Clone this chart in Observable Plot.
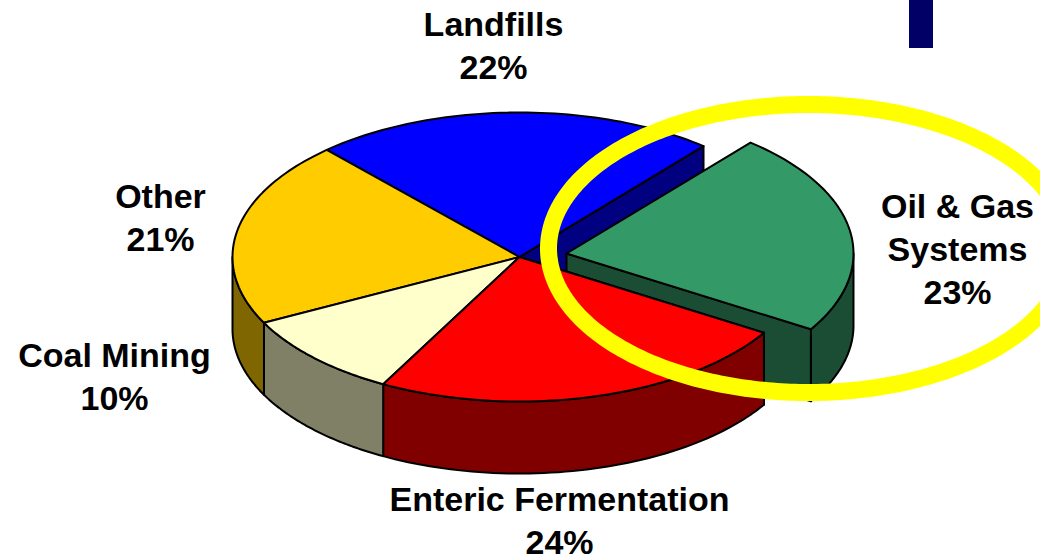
<!DOCTYPE html>
<html>
<head>
<meta charset="utf-8">
<script src="https://cdn.jsdelivr.net/npm/d3@7"></script>
<script src="https://cdn.jsdelivr.net/npm/@observablehq/plot@0.6"></script>
<style>
html,body{margin:0;padding:0;background:#fff;overflow:hidden}
svg{display:block}
</style>
</head>
<body>
<div id="chart"></div>
<script>
// Data
const names = ["Landfills", "Oil & Gas\nSystems", "Enteric Fermentation", "Coal Mining", "Other"];
const percentLabels = ["22%", "23%", "24%", "10%", "21%"];
const drawnShares = [22.8, 22.7, 24.1, 9.6, 20.8];   // slice widths as measured on the drawing
const topColors = ["#0000ff", "#339966", "#ff0000", "#ffffcc", "#ffcc00"];
const sideColors = ["#000080", "#1a4d33", "#800000", "#808066", "#806600"];

// Layout
const W = 1040, H = 557;
const pie = {cx: 519, cy: 256.5, rx: 287, ry: 144.5, depth: 72, start: -42.2};
const explode = [[0, 0], [47, -3.5], [0, 0], [0, 0], [0, 0]];
const ring = {cx: 808, cy: 248, rx: 260, ry: 144, width: 17, color: "#ffff00"};
const flag = {x1: 909, x2: 933, y1: 0, y2: 48, color: "#000066"};
const labelX = [493, 957, 559, 114, 160];
const labelFirstBaseline = [35, 217, 510, 366, 207];
const lineStep = 43;

let acc = pie.start;
const slices = drawnShares.map((s, i) => {
  const a0 = acc, a1 = acc + s * 3.6;
  acc = a1;
  return {i, a0, a1, dx: explode[i][0], dy: explode[i][1]};
});

const pt = (s, t, dz = 0) => {
  const r = t * Math.PI / 180;
  return {x: pie.cx + s.dx + pie.rx * Math.sin(r), y: pie.cy + s.dy - pie.ry * Math.cos(r) + dz};
};
const arc = (s, a, b, dz = 0) => d3.range(0, 61).map(k => pt(s, a + (b - a) * k / 60, dz));
const centre = (s, dz = 0) => ({x: pie.cx + s.dx, y: pie.cy + s.dy + dz});
const closed = pts => [...pts, pts[0]];
const outline = {stroke: "#000", strokeWidth: 2, strokeLinejoin: "round"};
const face = (pts, fill) => Plot.line(closed(pts), {x: "x", y: "y", fill, ...outline});

const topFace = s => face([centre(s), ...arc(s, s.a0, s.a1)], topColors[s.i]);
// outer rim: only the part of the arc that faces the viewer
const rimFace = s => {
  const a = Math.max(s.a0, 90), b = Math.min(s.a1, 270);
  if (a >= b) return null;
  return face([...arc(s, a, b), ...arc(s, b, a, pie.depth)], sideColors[s.i]);
};
// flat cut wall from the centre to a given edge angle
const cutFace = (s, t) => face(
  [centre(s), pt(s, t), pt(s, t, pie.depth), centre(s, pie.depth)], sideColors[s.i]);

const ringPts = d3.range(0, 361, 1).map(t => {
  const r = t * Math.PI / 180;
  return {x: ring.cx + ring.rx * Math.sin(r), y: ring.cy - ring.ry * Math.cos(r)};
});

const labelRows = names.flatMap((n, i) => {
  const lines = [...n.split("\n"), percentLabels[i]];
  return lines.map((text, k) => ({text, x: labelX[i], y: labelFirstBaseline[i] + k * lineStep}));
});

const [landfills, oil, enteric, coal, other] = slices;

const marks = [
  Plot.rect([flag], {x1: "x1", x2: "x2", y1: "y1", y2: "y2", fill: flag.color}),
  // back slice
  cutFace(landfills, landfills.a1),
  topFace(landfills),
  // exploded slice
  cutFace(oil, oil.a1),
  rimFace(oil),
  topFace(oil),
  // front slices
  cutFace(enteric, enteric.a0),
  rimFace(enteric),
  rimFace(coal),
  rimFace(other),
  topFace(other),
  topFace(coal),
  topFace(enteric),
  // highlight ring
  Plot.line(ringPts, {x: "x", y: "y", stroke: ring.color, strokeWidth: ring.width, fill: "none"}),
  Plot.text(labelRows, {
    x: "x", y: "y", text: "text", textAnchor: "middle", lineAnchor: "bottom",
    fontFamily: "Liberation Sans", fontWeight: "bold", fontSize: 34, fill: "#000"
  })
].filter(Boolean);

const chart = Plot.plot({
  width: W, height: H,
  margin: 0,
  x: {domain: [0, W], range: [0, W], axis: null},
  y: {domain: [0, H], range: [0, H], axis: null},
  style: {background: "#fff"},
  marks
});
document.getElementById("chart").append(chart);
</script>
</body>
</html>
